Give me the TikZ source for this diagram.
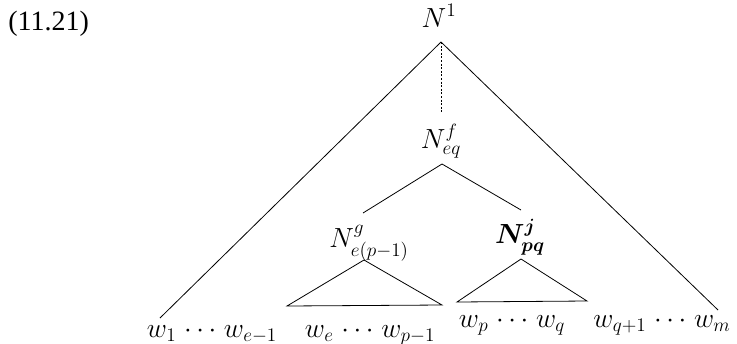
\documentclass[tikz,border=0pt]{standalone}
\usepackage{amsmath}
\usepackage{fontspec}
\setmainfont{Liberation Serif}
\usetikzlibrary{calc}
\tikzset{
  treeline/.style={draw=black, line width=0.6pt},
  dotline/.style={treeline, line width=0.5pt, dash pattern=on 1.5pt off 1.2pt},
  nlabel/.style={inner sep=0pt, anchor=base},
  leaf/.style={inner sep=0pt, anchor=base},
}
\newcommand{\wdots}{\;{\cdot}\,{\cdot}\,{\cdot}\;}

\begin{document}
\begin{tikzpicture}[x=0.75pt, y=-0.75pt, font=\fontsize{20.74}{24}\selectfont]
\useasboundingbox (0,0) rectangle (737,343);

% -----------------------------------------------------------------------------
% example number
% -----------------------------------------------------------------------------
\node[anchor=base west, inner sep=0pt, font=\fontsize{21}{24}\selectfont] (exno) at (8,30) {(11.21)};

% -----------------------------------------------------------------------------
% nonterminals
% -----------------------------------------------------------------------------
\node[nlabel] (N1)  at (439,27)  {$N^1$};
\node[nlabel] (Neq) at (441,148) {$N^f_{eq}$};
\node[nlabel] (Ng)  at (369,247) {$N^g_{e(p-1)}$};
\node[nlabel] (Nj)  at (520,243) {$\boldsymbol{N^j_{pq}}$};

% words along the bottom
\node[leaf] (wA) at (212,337) {$w_1\wdots w_{e-1}$};
\node[leaf] (wB) at (370,337) {$w_e\wdots w_{p-1}$};
\node[leaf] (wC) at (512,327) {$w_p\wdots w_q$};
\node[leaf] (wD) at (662,327) {$w_{q+1}\wdots w_m$};

% -----------------------------------------------------------------------------
% big triangle and dominance
% -----------------------------------------------------------------------------
\path ($(N1.base)+(2,15)$) coordinate (top);
\draw[treeline] (top) -- ++(-281,276);
\draw[treeline] (top) -- ++(277,268);
\draw[dotline] (top) -- ($(Neq.base)+(0,-35)$);

% binary split under N_eq
\path ($(Neq.base)+(1,16)$) coordinate (eqtop);
\draw[treeline] ($(Ng.base)+(-6,-34)$) -- (eqtop) -- ($(Nj.base)+(1,-33)$);

% small subtrees
\draw[treeline] ($(Ng.base)+(-5,13)$) -- ++(-77,46) -- ++(155,-1) -- cycle;
\draw[treeline] ($(Nj.base)+(1,16)$) -- ++(-64,43) -- ++(130,-1) -- cycle;

\end{tikzpicture}
\end{document}
